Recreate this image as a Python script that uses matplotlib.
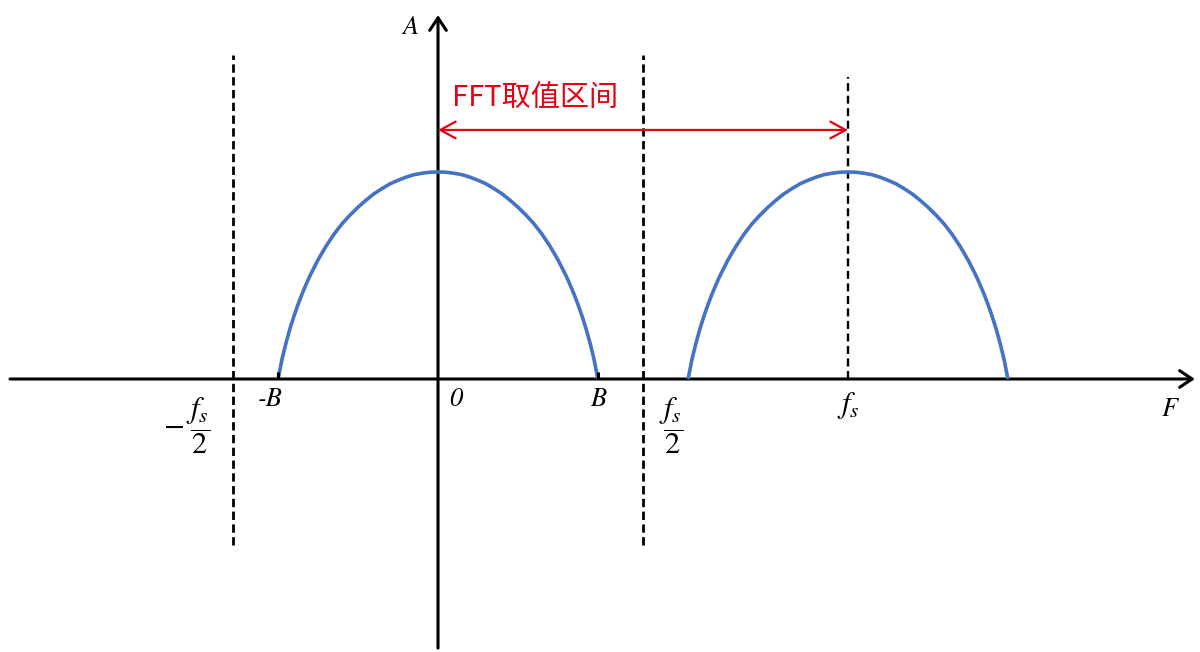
import matplotlib.pyplot as plt

plt.rcParams['mathtext.fontset'] = 'stix'

# frequencies in units of the sample rate fs, amplitude in units of the peak A
fs = 1.0
B = 0.39
nyquist = fs / 2

# one half of a spectral lobe
# offset from the lobe centre in units of B, height in units of A
lobe_offset = [0, 0.05, 0.1, 0.15, 0.2, 0.25, 0.3, 0.35, 0.4, 0.45, 0.5,
               0.55, 0.6, 0.65, 0.7, 0.75, 0.8, 0.825, 0.85, 0.875, 0.9,
               0.925, 0.95, 0.975, 1.0]
lobe_height = [1.0, 0.999, 0.994, 0.987, 0.975, 0.96, 0.943, 0.92, 0.895, 0.864, 0.83,
               0.792, 0.75, 0.70, 0.642, 0.576, 0.50, 0.457, 0.411, 0.361, 0.306,
               0.245, 0.176, 0.098, 0.0]
lobe_centers = [0, fs]

tick_pos = [-nyquist, -B, 0, B, nyquist, fs]
tick_text = [r'$-\;\dfrac{f_s}{2}$', '-B', '0', 'B', r'$\dfrac{f_s}{2}$', r'$f_s$']
# label shift from the tick, in pixels
tick_shift = [(-46, -47), (-8, -21), (18, -21), (0, -21), (28, -47), (0, -26)]
tick_size = [22, 19, 19, 19, 22, 22]

fft_range = (0, fs)
fft_text = 'FFT取值区间'

# view (data units)
x_view = (-1.0683, 1.8585)
y_view = (-1.3188, 1.8309)
x_axis_span = (-1.044, 1.846)
y_axis_span = (-1.30, 1.758)
nyq_span = (-0.802, 1.565)
fs_top = 1.459
arrow_y = 1.203

blue = '#4472C4'
red = '#E60012'

fig = plt.figure(figsize=(12, 6.52), dpi=100)
ax = fig.add_axes([0, 0, 1, 1])
ax.set_xlim(*x_view)
ax.set_ylim(*y_view)
ax.axis('off')

# coordinate axes with open arrow heads
axis_arrow = dict(arrowstyle='->,head_length=0.45,head_width=0.3', lw=2.2,
                  color='black', shrinkA=0, shrinkB=0, mutation_scale=20)
ax.annotate('', xy=(x_axis_span[1], 0), xytext=(x_axis_span[0], 0), arrowprops=axis_arrow)
ax.annotate('', xy=(0, y_axis_span[1]), xytext=(0, y_axis_span[0]), arrowprops=axis_arrow)

# spectrum lobes
for c in lobe_centers:
    xs = [c - u * B for u in lobe_offset[::-1]] + [c + u * B for u in lobe_offset[1:]]
    ys = lobe_height[::-1] + lobe_height[1:]
    ax.plot(xs, ys, color=blue, lw=2.6, solid_capstyle='butt',
            solid_joinstyle='round', zorder=3)

# small marks at -B and B
for x in (-B, B):
    ax.plot([x, x], [0, 0.035], color='black', lw=2.2, solid_capstyle='butt', zorder=4)

# Nyquist limits and fs
for x in (-nyquist, nyquist):
    ax.plot([x, x], nyq_span, color='black', lw=2, ls=(0, (3, 1.6)))
ax.plot([fs, fs], [0, fs_top], color='black', lw=1.7, ls=(0, (3.4, 1.9)))

# FFT range arrow
ax.annotate('', xy=(fft_range[1], arrow_y), xytext=(fft_range[0], arrow_y),
            arrowprops=dict(arrowstyle='<->,head_length=0.55,head_width=0.3', lw=1.6,
                            color=red, shrinkA=0, shrinkB=0, mutation_scale=20))
ax.annotate(fft_text, xy=(fft_range[0], arrow_y), xytext=(14, 32), textcoords='offset pixels',
            ha='left', va='center', color=red, fontsize=21,
            family=['Noto Sans CJK SC', 'DejaVu Sans'])

# tick labels
for pos, txt, (dx, dy), size in zip(tick_pos, tick_text, tick_shift, tick_size):
    ax.annotate(txt, xy=(pos, 0), xytext=(dx, dy), textcoords='offset pixels',
                ha='center', va='center', fontsize=size,
                family='STIXGeneral', style='italic')

# axis names
ax.annotate('A', xy=(0, y_axis_span[1]), xytext=(-28, -13), textcoords='offset pixels',
            ha='center', va='center', fontsize=19, family='STIXGeneral', style='italic')
ax.annotate('F', xy=(x_axis_span[1], 0), xytext=(-25, -31), textcoords='offset pixels',
            ha='center', va='center', fontsize=19, family='STIXGeneral', style='italic')

fig.savefig('out.png', dpi=100, facecolor='white')
